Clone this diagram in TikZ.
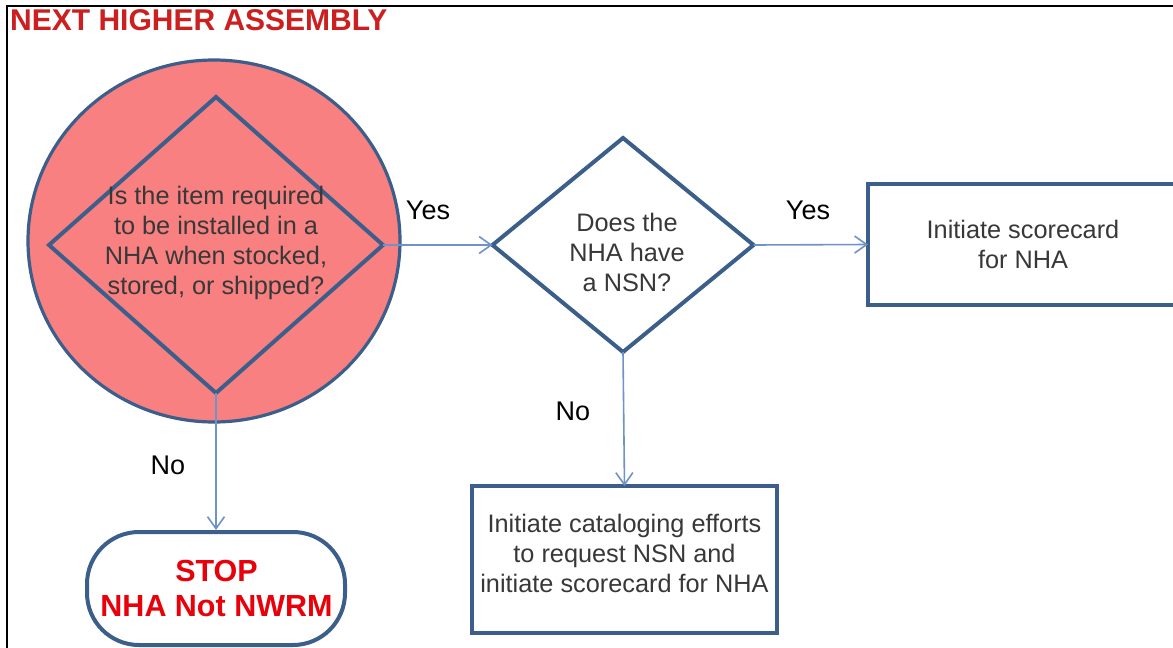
\documentclass[tikz,border=0pt]{standalone}
\usepackage{fontspec}
\setmainfont{Liberation Sans}
\usetikzlibrary{shapes.geometric,arrows.meta}
\definecolor{pinkfill}{HTML}{F88080}
\definecolor{shapeblue}{HTML}{3C5E8A}
\definecolor{arrowblue}{HTML}{6F93C6}
\definecolor{bodygray}{HTML}{383838}
\definecolor{stopred}{HTML}{E8000B}
\definecolor{titlered}{HTML}{CC1F1F}
\tikzset{
  shapeline/.style={draw=shapeblue, line width=4pt},
  decision/.style={shapeline, diamond, inner sep=0pt, outer sep=0pt},
  procbox/.style={shapeline, rectangle, inner sep=0pt, outer sep=0pt},
  bodytext/.style={align=center, text=bodygray, font=\fontsize{25.3}{30}\selectfont, inner sep=0pt},
  labeltext/.style={text=black, font=\fontsize{27}{30}\selectfont, inner sep=0pt},
  conn/.style={draw=arrowblue, line width=1.6pt, -{Straight Barb[length=12pt,width=17pt,line width=1.6pt]}},
}
\begin{document}
\begin{tikzpicture}[x=1pt,y=-1pt]
\useasboundingbox (0,0) rectangle (1173,648);
\clip (0,0) rectangle (1173,648);
\fill[white] (0,0) rectangle (1173,648);
% frame
\draw[black, line width=2.6pt] (7,660) -- (7,6) -- (1185,6);
% title
\node[anchor=west, inner sep=0pt, text=titlered, font=\bfseries\fontsize{30}{30}\selectfont] (title) at (10,20) {NEXT HIGHER ASSEMBLY};
% circle
\node[ellipse, draw=shapeblue, line width=3.2pt, fill=pinkfill, minimum width=372pt, minimum height=362pt, inner sep=0pt] (ring) at (214,241) {};
% decisions
\node[decision, minimum width=334pt, minimum height=296pt] (q1) at (216,245) {};
\node[bodytext] (q1t) at (216,243) {Is the item required\\to be installed in a\\NHA when stocked,\\stored, or shipped?};
\node[decision, minimum width=261pt, minimum height=214pt] (q2) at (623,245) {};
\node[bodytext] (q2t) at (627,252) {Does the\\NHA have\\a NSN?};
% boxes
\node[procbox, minimum width=310pt, minimum height=121pt] (b1) at (1023,244.5) {};
\node[bodytext] (b1t) at (1023,244) {Initiate scorecard\\for NHA};
\node[procbox, minimum width=305pt, minimum height=147pt] (b2) at (624.5,559.5) {};
\node[bodytext] (b2t) at (624.5,553) {Initiate cataloging efforts\\to request NSN and\\initiate scorecard for NHA};
% stop
\node[draw=shapeblue, line width=4pt, rectangle, rounded corners=52pt, minimum width=258pt, minimum height=113pt, inner sep=0pt] (stop) at (216,588.5) {};
\node[align=center, inner sep=0pt, text=stopred, font=\bfseries\fontsize{30.5}{35}\selectfont] (stopt) at (216.5,588) {STOP\\NHA Not NWRM};
% connectors
\draw[conn] (q1.east) -- (q2.west);
\draw[conn] (q2.east) -- (b1.west);
\draw[conn] (q2.south) -- (b2.north);
\draw[conn] (q1.south) -- (stop.north);
% labels
\node[labeltext] (yes1) at (428,210) {Yes};
\node[labeltext] (yes2) at (808,210) {Yes};
\node[labeltext] (no2) at (573,411) {No};
\node[labeltext] (no1) at (168,465) {No};
\end{tikzpicture}
\end{document}
